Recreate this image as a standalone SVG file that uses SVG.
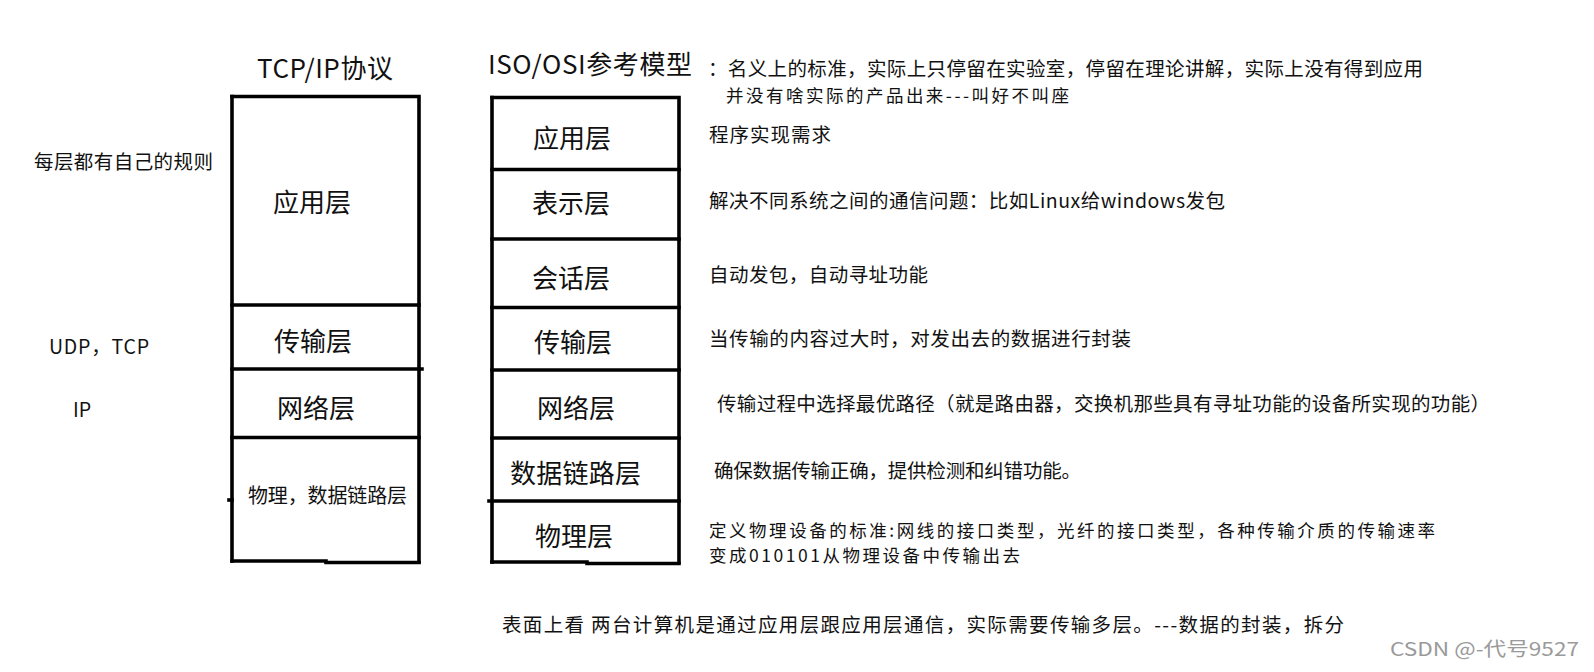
<svg xmlns="http://www.w3.org/2000/svg" width="1594" height="672" viewBox="0 0 1594 672">
<style>
text{font-family:"Noto Sans CJK SC","Microsoft YaHei","Noto Sans",sans-serif;fill:#111;}
.t{font-size:26px;}
.lab{font-size:26px;}
.s{font-size:19.5px;}
.s2{font-size:17.5px;}
.sm{font-size:20px;}
.ln{stroke:#000;stroke-width:3.6;fill:none;stroke-linecap:square;}
.wm{font-size:19px;fill:#9a9a9a;}
</style>
<rect x="0" y="0" width="1594" height="672" fill="#fff"/>

<g id="titles">
<text class="t" x="257" y="78" textLength="136">TCP/IP协议</text>
<text class="t" x="488" y="74" textLength="204">ISO/OSI参考模型</text>
</g>

<g id="tcpip-stack">
<path class="ln" d="M232,96.5 H419 V562"/>
<path class="ln" d="M232,96.5 V561"/>
<path class="ln" d="M229,500 H232"/>
<path class="ln" d="M232,561 H326"/>
<path class="ln" d="M326,562.5 H419"/>
<path class="ln" d="M232,305 H419"/>
<path class="ln" d="M232,369 H422"/>
<path class="ln" d="M232,437.5 H419"/>
</g>
<g id="tcp-app"><text class="lab" x="273" y="212">应用层</text></g>
<g id="tcp-transport"><text class="lab" x="274" y="351">传输层</text></g>
<g id="tcp-network"><text class="lab" x="277" y="418">网络层</text></g>
<g id="tcp-phys"><text class="sm" x="248" y="503" textLength="159">物理，数据链路层</text></g>

<g id="osi-stack">
<path class="ln" d="M492,97.5 H679 V562"/>
<path class="ln" d="M492,97.5 V562"/>
<path class="ln" d="M492,562 H587"/>
<path class="ln" d="M587,563.5 H679"/>
<path class="ln" d="M492,169.5 H679"/>
<path class="ln" d="M492,239 H679"/>
<path class="ln" d="M492,307.5 H679"/>
<path class="ln" d="M492,370 H679"/>
<path class="ln" d="M492,438 H679"/>
<path class="ln" d="M489,501 H679"/>
</g>
<g id="osi-app"><text class="lab" x="533" y="148">应用层</text></g>
<g id="osi-pres"><text class="lab" x="532" y="213">表示层</text></g>
<g id="osi-sess"><text class="lab" x="532" y="288">会话层</text></g>
<g id="osi-trans"><text class="lab" x="534" y="352">传输层</text></g>
<g id="osi-net"><text class="lab" x="537" y="418">网络层</text></g>
<g id="osi-link"><text class="lab" x="510" y="483" textLength="131">数据链路层</text></g>
<g id="osi-phys"><text class="lab" x="535" y="546">物理层</text></g>

<g id="left-notes">
<text class="s" x="34" y="169" textLength="179">每层都有自己的规则</text>
<text class="s" x="49" y="354" textLength="100">UDP，TCP</text>
<text class="s" x="73" y="417">IP</text>
</g>

<g id="right-notes">
<text class="s" x="708" y="76" textLength="715">：名义上的标准，实际上只停留在实验室，停留在理论讲解，实际上没有得到应用</text>
<text class="s2" x="726" y="102" textLength="343">并没有啥实际的产品出来---叫好不叫座</text>
<text class="s" x="709" y="142" textLength="122">程序实现需求</text>
<text class="s" x="709" y="208" textLength="516">解决不同系统之间的通信问题：比如Linux给windows发包</text>
<text class="s" x="709" y="282" textLength="219">自动发包，自动寻址功能</text>
<text class="s" x="709" y="346" textLength="422">当传输的内容过大时，对发出去的数据进行封装</text>
<text class="s" x="717" y="411" textLength="773">传输过程中选择最优路径（就是路由器，交换机那些具有寻址功能的设备所实现的功能）</text>
<text class="s" x="714" y="478" textLength="367">确保数据传输正确，提供检测和纠错功能。</text>
<text class="s2" x="709" y="537" textLength="726">定义物理设备的标准:网线的接口类型，光纤的接口类型，各种传输介质的传输速率</text>
<text class="s2" x="709" y="562" textLength="311">变成010101从物理设备中传输出去</text>
</g>

<g id="bottom-note">
<text class="s" x="502" y="632" textLength="842">表面上看 两台计算机是通过应用层跟应用层通信，实际需要传输多层。---数据的封装，拆分</text>
<text class="wm" x="1390" y="656" textLength="189" lengthAdjust="spacingAndGlyphs">CSDN @-代号9527</text>
</g>
</svg>
